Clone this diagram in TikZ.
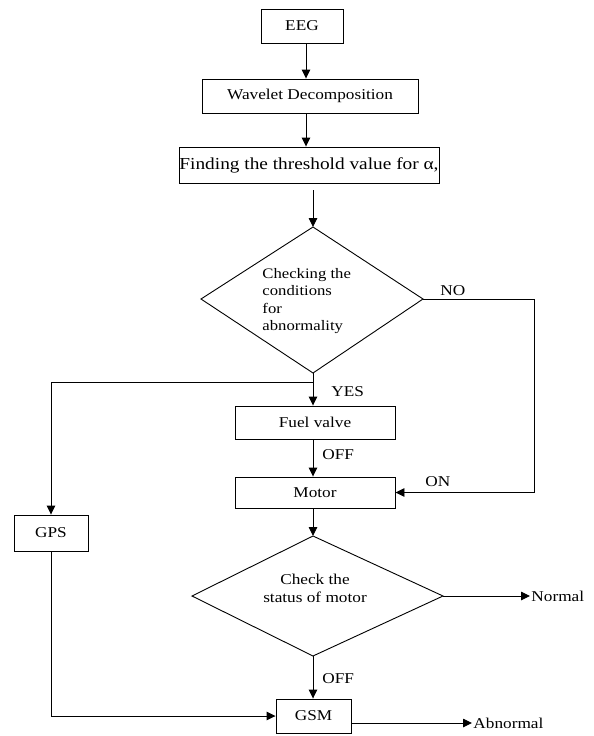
\documentclass[tikz,border=0pt]{standalone}
\usepackage{fontspec}
\setmainfont{Liberation Serif}[FakeStretch=1.15]
\usetikzlibrary{arrows.meta,calc}
\begin{document}
\begin{tikzpicture}[x=1pt,y=-1pt,
  font=\fontsize{15}{18}\selectfont,
  line width=0.9pt,
  box/.style={draw, inner sep=0pt},
  lbl/.style={inner sep=1pt},
  arr/.style={-{Triangle[length=9pt,width=8.5pt]}}]
\useasboundingbox (0,0) rectangle (594,736);
% boxes
\node[box, minimum width=82pt, minimum height=34pt] (eeg) at (302,26) {EEG};
\node[box, minimum width=216pt, minimum height=34pt] (wav) at (310,96) {Wavelet Decomposition};
\node[box, minimum width=260pt, minimum height=36pt, font=\fontsize{16.8}{19}\selectfont] (find) at (309,165) {Finding the threshold value for α,};
\node[box, minimum width=160pt, minimum height=33pt] (fuel) at (315,422.5) {Fuel valve};
\node[box, minimum width=160pt, minimum height=31pt] (motor) at (315,492.5) {Motor};
\node[box, minimum width=74pt, minimum height=36pt] (gps) at (51,533) {GPS};
\node[box, minimum width=75pt, minimum height=34pt] (gsm) at (313.5,716) {GSM};
% decision 1
\draw (313,227) coordinate (d1t) -- (423,299) coordinate (d1r)
  -- (313,373) coordinate (d1b) -- (201,299) coordinate (d1l) -- cycle;
\node[lbl, anchor=west, align=left, font=\fontsize{14.5}{17.5}\selectfont] (d1txt) at (261,301)
  {Checking the\\conditions\\for\\abnormality};
% decision 2
\draw (313,536) coordinate (d2t) -- (443,596) coordinate (d2r)
  -- (313,656) coordinate (d2b) -- (192,596) coordinate (d2l) -- cycle;
\node[lbl, align=center] (d2txt) at (315,588) {Check the\\status of motor};
% labels
\node[lbl, anchor=west] (yes) at (330,392) {YES};
\node[lbl, anchor=west] (off1) at (321,455) {OFF};
\node[lbl, anchor=west] (on) at (424,482) {ON};
\node[lbl, anchor=west] (no) at (439,291) {NO};
\node[lbl, anchor=west] (off2) at (321,679) {OFF};
\node[lbl, anchor=west] (normal) at (530,596) {Normal};
\node[lbl, anchor=west] (abn) at (472,723) {Abnormal};
% helper coordinates
\coordinate (ax) at (306,0);
\coordinate (br) at (313,382);
\coordinate (nc) at (534,299);
% connectors
\draw[arr] (eeg.south -| ax) -- (wav.north -| ax);
\draw[arr] (wav.south -| ax) -- (find.north -| ax);
\draw[arr, shorten <=7pt] (find.south -| d1t) -- (d1t);
\draw[arr] (d1b) -- (fuel.north -| d1b);
\draw[arr] (br) -| (gps.north);
\draw[arr] (gps.south) |- (gsm.west);
\draw[arr] (d1r) -- (nc) |- (motor.east);
\draw[arr] (fuel.south -| d1b) -- (motor.north -| d1b);
\draw[arr] (motor.south -| d2t) -- (d2t);
\draw[arr] (d2r) -- (normal.west);
\draw[arr] (d2b) -- (gsm.north -| d2b);
\draw[arr] (gsm.east |- abn) -- (abn.west);
\end{tikzpicture}
\end{document}
